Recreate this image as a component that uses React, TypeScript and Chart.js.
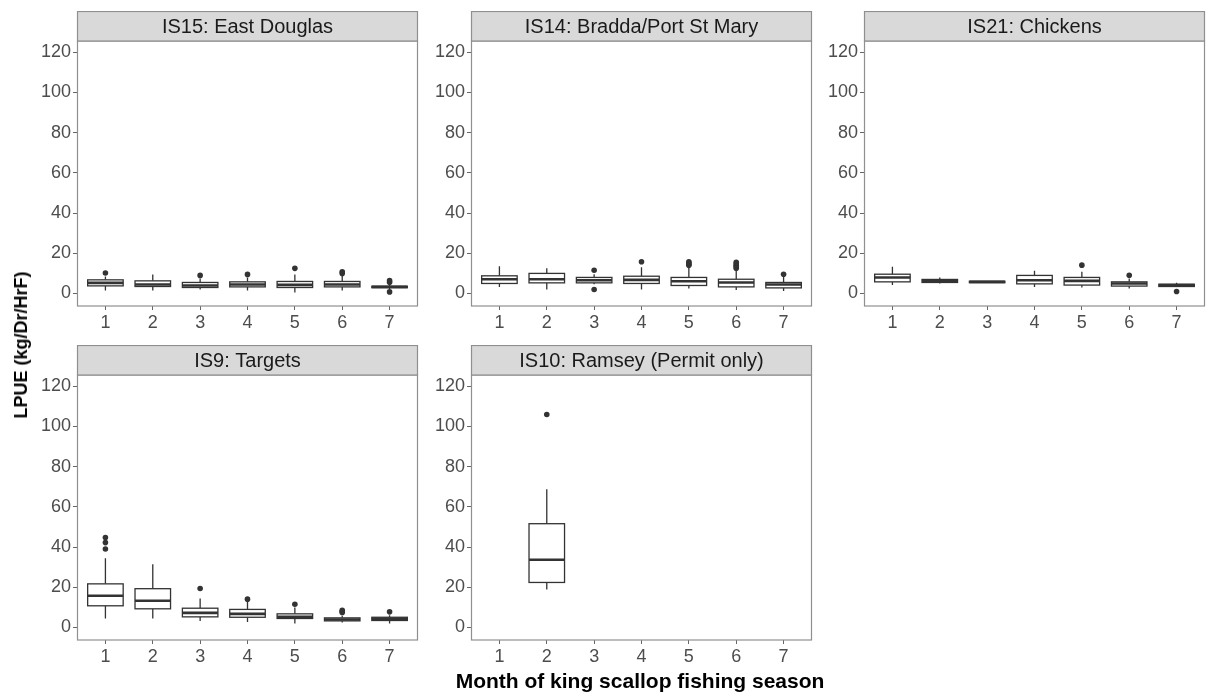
import React, { useEffect, useRef } from "react";
import { Chart, registerables } from "chart.js";

Chart.register(...registerables);
Chart.defaults.font.family = "'Liberation Sans', Arial, sans-serif";

// Months of the season and y-axis tick values
const months = [1, 2, 3, 4, 5, 6, 7];
const yTicks = [0, 20, 40, 60, 80, 100, 120];

// IS15: East Douglas
const is15Lower = [1.5, 1.5, 2.0, 1.5, 0.5, 1.5, 2.3];
const is15Q1 = [3.8, 3.5, 3.0, 3.3, 3.0, 3.3, 2.9];
const is15Median = [5.3, 4.5, 4.0, 4.5, 4.3, 4.5, 3.3];
const is15Q3 = [6.8, 6.3, 5.5, 5.8, 6.0, 6.0, 3.6];
const is15Upper = [8.5, 9.5, 7.5, 8.0, 9.5, 9.0, 4.2];
const is15Outliers = [[10.2], [], [9.0], [9.5], [12.5], [10.0, 10.8], [0.8, 5.6, 6.5]];

// IS14: Bradda/Port St Mary
const is14Lower = [3.3, 2.0, 4.6, 2.0, 2.5, 1.7, 1.3];
const is14Q1 = [5.0, 5.3, 5.3, 5.0, 4.0, 3.3, 2.8];
const is14Median = [7.1, 7.1, 6.6, 6.8, 6.1, 5.5, 4.5];
const is14Q3 = [8.8, 10.0, 8.0, 8.6, 8.0, 7.1, 5.5];
const is14Upper = [13.6, 12.5, 9.6, 13.0, 12.8, 11.8, 8.3];
const is14Outliers = [[], [], [2.0, 11.6], [15.8], [14.0, 14.6, 15.2, 15.8], [12.6, 13.3, 14.0, 14.7, 15.5], [9.6]];

// IS21: Chickens
const is21Lower = [4.2, 5.0, 5.3, 3.3, 3.0, 2.5, 3.3];
const is21Q1 = [5.8, 5.5, 5.4, 4.8, 4.2, 3.7, 3.5];
const is21Median = [8.0, 6.3, 5.8, 6.6, 6.3, 5.0, 4.2];
const is21Q3 = [9.6, 7.0, 6.1, 9.0, 8.0, 5.8, 4.6];
const is21Upper = [13.3, 8.0, 6.2, 11.3, 10.8, 7.5, 5.3];
const is21Outliers = [[], [], [], [], [14.1], [9.1], [1.0]];

// IS9: Targets
const is9Lower = [4.5, 4.5, 3.3, 2.8, 2.0, 2.5, 2.0];
const is9Q1 = [10.8, 9.3, 5.3, 5.1, 4.5, 3.3, 3.5];
const is9Median = [15.8, 13.3, 7.3, 6.8, 5.3, 4.0, 4.3];
const is9Q3 = [21.7, 19.3, 9.6, 9.0, 6.8, 4.8, 5.1];
const is9Upper = [34.4, 31.4, 14.4, 12.8, 10.0, 5.8, 6.1];
const is9Outliers = [[39.0, 42.2, 44.7], [], [19.4], [14.1], [11.6], [7.5, 8.0, 8.6], [7.8]];

// IS10: Ramsey (Permit only) - fished in month 2 only
const is10Lower = [null, 18.9, null, null, null, null, null];
const is10Q1 = [null, 22.4, null, null, null, null, null];
const is10Median = [null, 33.7, null, null, null, null, null];
const is10Q3 = [null, 51.6, null, null, null, null, null];
const is10Upper = [null, 68.7, null, null, null, null, null];
const is10Outliers = [[], [105.9], [], [], [], [], []];

type Stats = {
  lower: (number | null)[];
  q1: (number | null)[];
  median: (number | null)[];
  q3: (number | null)[];
  upper: (number | null)[];
  outliers: number[][];
};

const Y_AXIS_W = 60;
const X_AXIS_H = 36;
const STRIP_H = 30;
const PLOT_W = 340;
const PLOT_H = 265;
const BORDER = "#8f8f8f";
const INK = "#333333";

function makeBoxPlugin(stats: Stats, title: string) {
  return {
    id: "boxes",
    beforeDatasetsDraw(chart: any) {
      const { ctx, scales } = chart;
      const x = scales.x;
      const y = scales.y;
      ctx.save();
      months.forEach((m, i) => {
        const med = stats.median[i];
        if (med == null) return;
        const lo = stats.lower[i] as number;
        const q1 = stats.q1[i] as number;
        const q3 = stats.q3[i] as number;
        const hi = stats.upper[i] as number;
        const xc = x.getPixelForValue(m);
        const xl = x.getPixelForValue(m - 0.375);
        const xr = x.getPixelForValue(m + 0.375);
        ctx.strokeStyle = INK;
        ctx.lineWidth = 1.3;
        // whiskers
        ctx.beginPath();
        ctx.moveTo(xc, y.getPixelForValue(hi));
        ctx.lineTo(xc, y.getPixelForValue(q3));
        ctx.moveTo(xc, y.getPixelForValue(q1));
        ctx.lineTo(xc, y.getPixelForValue(lo));
        ctx.stroke();
        // box
        const yt = y.getPixelForValue(q3);
        const yb = y.getPixelForValue(q1);
        ctx.fillStyle = "#ffffff";
        ctx.fillRect(xl, yt, xr - xl, yb - yt);
        ctx.strokeRect(xl, yt, xr - xl, yb - yt);
        // median
        ctx.lineWidth = 2.6;
        ctx.beginPath();
        ctx.moveTo(xl, y.getPixelForValue(med));
        ctx.lineTo(xr, y.getPixelForValue(med));
        ctx.stroke();
      });
      ctx.restore();
    },
    afterDraw(chart: any) {
      const { ctx, chartArea } = chart;
      const { left, top, right, bottom } = chartArea;
      ctx.save();
      // panel border
      ctx.strokeStyle = BORDER;
      ctx.lineWidth = 1.2;
      ctx.strokeRect(left + 0.5, top, right - left - 1, bottom - top);
      // strip
      ctx.fillStyle = "#d9d9d9";
      ctx.fillRect(left + 0.5, 0.5, right - left - 1, top - 0.5);
      ctx.strokeRect(left + 0.5, 0.5, right - left - 1, top - 0.5);
      ctx.fillStyle = "#1a1a1a";
      ctx.font = "20px 'Liberation Sans', Arial, sans-serif";
      ctx.textAlign = "center";
      ctx.textBaseline = "middle";
      ctx.fillText(title, (left + right) / 2, top / 2 + 1);
      ctx.restore();
    },
  };
}

function Panel({ title, stats, left, top }: { title: string; stats: Stats; left: number; top: number }) {
  const ref = useRef<HTMLCanvasElement>(null);
  useEffect(() => {
    const canvas = ref.current as HTMLCanvasElement;
    const points: { x: number; y: number }[] = [];
    stats.outliers.forEach((vals, i) => vals.forEach((v) => points.push({ x: months[i], y: v })));
    const tickFont = { size: 18 };
    const chart = new Chart(canvas, {
      type: "scatter",
      data: {
        datasets: [
          {
            data: points,
            pointRadius: 2.8,
            pointBackgroundColor: INK,
            pointBorderWidth: 0,
          },
        ],
      },
      options: {
        responsive: false,
        animation: false,
        devicePixelRatio: 1,
        layout: { padding: { top: STRIP_H, right: 1, left: 0, bottom: 0 } },
        plugins: { legend: { display: false }, tooltip: { enabled: false } },
        scales: {
          x: {
            type: "linear",
            min: 0.4,
            max: 7.6,
            afterBuildTicks: (s: any) => {
              s.ticks = months.map((v) => ({ value: v }));
            },
            afterFit: (s: any) => {
              s.height = X_AXIS_H;
            },
            grid: { drawOnChartArea: false, drawTicks: true, tickLength: 4, color: "#666", lineWidth: 1 },
            border: { display: false },
            ticks: { font: tickFont, color: "#4d4d4d", padding: 2, autoSkip: false, maxRotation: 0, callback: (v: any) => String(v) },
          },
          y: {
            type: "linear",
            min: -6.2,
            max: 125.5,
            afterBuildTicks: (s: any) => {
              s.ticks = yTicks.map((v) => ({ value: v }));
            },
            afterFit: (s: any) => {
              s.width = Y_AXIS_W;
            },
            grid: { drawOnChartArea: false, drawTicks: true, tickLength: 4, color: "#666", lineWidth: 1 },
            border: { display: false },
            ticks: { font: tickFont, color: "#4d4d4d", padding: 2, autoSkip: false, callback: (v: any) => String(v) },
          },
        },
      } as any,
      plugins: [makeBoxPlugin(stats, title)],
    });
    return () => chart.destroy();
  }, []);
  return (
    <canvas
      ref={ref}
      width={Y_AXIS_W + PLOT_W + 5}
      height={STRIP_H + PLOT_H + X_AXIS_H}
      style={{ position: "absolute", left: left - Y_AXIS_W, top }}
    />
  );
}

export default function App() {
  const colLeft = [77, 471, 864];
  const rowTop = [11, 345];
  return (
    <div
      style={{
        position: "fixed",
        left: 0,
        top: 0,
        width: 1206,
        height: 693,
        background: "#ffffff",
        overflow: "hidden",
        fontFamily: "'Liberation Sans', Arial, sans-serif",
      }}
    >
      <Panel
        title="IS15: East Douglas"
        stats={{ lower: is15Lower, q1: is15Q1, median: is15Median, q3: is15Q3, upper: is15Upper, outliers: is15Outliers }}
        left={colLeft[0]}
        top={rowTop[0]}
      />
      <Panel
        title="IS14: Bradda/Port St Mary"
        stats={{ lower: is14Lower, q1: is14Q1, median: is14Median, q3: is14Q3, upper: is14Upper, outliers: is14Outliers }}
        left={colLeft[1]}
        top={rowTop[0]}
      />
      <Panel
        title="IS21: Chickens"
        stats={{ lower: is21Lower, q1: is21Q1, median: is21Median, q3: is21Q3, upper: is21Upper, outliers: is21Outliers }}
        left={colLeft[2]}
        top={rowTop[0]}
      />
      <Panel
        title="IS9: Targets"
        stats={{ lower: is9Lower, q1: is9Q1, median: is9Median, q3: is9Q3, upper: is9Upper, outliers: is9Outliers }}
        left={colLeft[0]}
        top={rowTop[1]}
      />
      <Panel
        title="IS10: Ramsey (Permit only)"
        stats={{ lower: is10Lower, q1: is10Q1, median: is10Median, q3: is10Q3, upper: is10Upper, outliers: is10Outliers }}
        left={colLeft[1]}
        top={rowTop[1]}
      />
      <div
        style={{
          position: "absolute",
          left: 21,
          top: 345,
          transform: "translate(-50%, -50%) rotate(-90deg)",
          whiteSpace: "nowrap",
          fontWeight: "bold",
          fontSize: 18,
          lineHeight: "20px",
          color: "#000",
        }}
      >
        LPUE (kg/Dr/HrF)
      </div>
      <div
        style={{
          position: "absolute",
          left: 640,
          top: 670,
          transform: "translateX(-50%)",
          whiteSpace: "nowrap",
          fontWeight: "bold",
          fontSize: 21,
          lineHeight: "21px",
          color: "#000",
        }}
      >
        Month of king scallop fishing season
      </div>
    </div>
  );
}
